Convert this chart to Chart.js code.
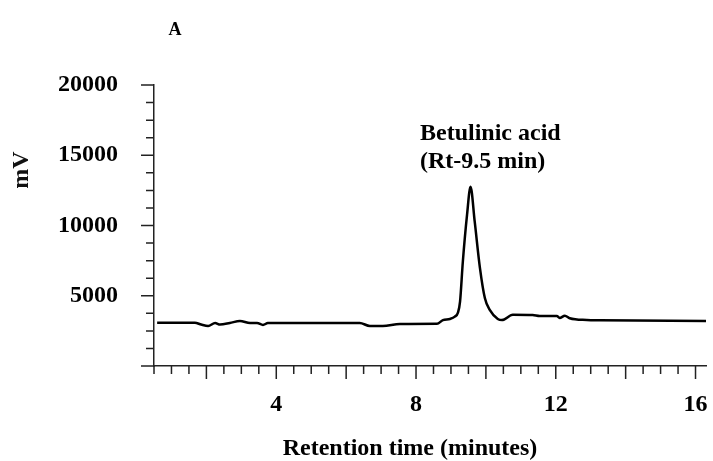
<!DOCTYPE html>
<html lang="en">
  <head>
    <meta charset="UTF-8" />
    <title>Betulinic acid chromatogram</title>
    <script src="https://cdn.jsdelivr.net/npm/chart.js"></script>
    <style>
      body { margin: 0; background: #fff; }
      #wrap { width: 713px; height: 461px; }
    </style>
  </head>
  <body>
    <div id="wrap"><canvas id="hplcChart"></canvas></div>

    <script>
      // retention time (min) and detector signal (mV)
      const rtMinutes = [0.59, 1.67, 1.85, 2.05, 2.25, 2.39, 2.67, 2.96, 3.25, 3.45, 3.62, 3.76, 6.39, 6.68, 7.05, 7.54, 8.6, 8.77, 8.97, 9.11, 9.2, 9.26, 9.34, 9.46, 9.56, 9.68, 9.83, 9.97, 10.11, 10.34, 10.46, 10.77, 11.34, 11.54, 12.03, 12.11, 12.26, 12.4, 12.89, 13.26, 16.3];
      const signalMv = [3080, 3080, 2950, 2850, 3060, 2950, 3060, 3200, 3060, 3060, 2920, 3060, 3060, 2850, 2850, 2990, 3000, 3270, 3350, 3510, 3800, 4580, 7420, 10750, 12760, 10270, 6970, 4840, 3990, 3350, 3270, 3650, 3630, 3560, 3560, 3420, 3580, 3400, 3270, 3250, 3200];

      const xMin = 0.5;
      const xMax = 16.3;
      const yMin = 0;
      const yMax = 20000;
      const xLabelEvery = 4;
      const yLabelEvery = 5000;

      const peakName = "Betulinic acid";
      const peakNote = "(Rt-9.5 min)";
      const panelLetter = "A";
      const xTitle = "Retention time (minutes)";
      const yTitle = "mV";

      const serif = "'Liberation Serif', 'Times New Roman', serif";
      const tickFont = { family: serif, size: 24, weight: "bold" };

      // tick marks of two lengths plus the free-floating texts
      const decor = {
        id: "decor",
        afterDraw(chart) {
          const { ctx, scales } = chart;
          const x = scales.x;
          const y = scales.y;
          ctx.save();
          ctx.strokeStyle = "#222";
          ctx.lineWidth = 1.5;
          ctx.beginPath();
          x.ticks.forEach((t) => {
            const px = x.getPixelForValue(t.value);
            const len = Math.abs(t.value / 2 - Math.round(t.value / 2)) < 1e-6 ? 13 : 8;
            ctx.moveTo(px, x.top);
            ctx.lineTo(px, x.top + len);
          });
          y.ticks.forEach((t) => {
            const py = y.getPixelForValue(t.value);
            const len = t.value % yLabelEvery === 0 ? 13 : 8;
            ctx.moveTo(y.right, py);
            ctx.lineTo(y.right - len, py);
          });
          ctx.stroke();

          ctx.fillStyle = "#000";
          ctx.textBaseline = "alphabetic";
          ctx.textAlign = "left";
          ctx.font = "bold 24px " + serif;
          ctx.fillText(peakName, 420, 140);
          ctx.fillText(peakNote, 420, 168);

          ctx.textAlign = "center";
          ctx.fillText(xTitle, 410, 455);

          ctx.font = "bold 18px " + serif;
          ctx.fillText(panelLetter, 175, 35);

          ctx.font = "bold 24px " + serif;
          ctx.fillStyle = "#111";
          ctx.translate(22, 170);
          ctx.rotate(-Math.PI / 2);
          ctx.textBaseline = "middle";
          ctx.fillText(yTitle, 0, 0);
          ctx.restore();
        },
      };

      const ctx = document.getElementById("hplcChart").getContext("2d");
      new Chart(ctx, {
        type: "scatter",
        data: {
          datasets: [
            {
              label: "Signal",
              data: rtMinutes.map((t, i) => ({ x: t, y: signalMv[i] })),
              showLine: true,
              borderColor: "#000",
              borderWidth: 2.5,
              pointRadius: 0,
              cubicInterpolationMode: "monotone",
            },
          ],
        },
        options: {
          responsive: true,
          maintainAspectRatio: false,
          animation: false,
          layout: { padding: { top: 85, right: 7, left: 0, bottom: 0 } },
          plugins: {
            legend: { display: false },
            tooltip: { enabled: false },
          },
          scales: {
            x: {
              type: "linear",
              min: xMin,
              max: xMax,
              afterFit: (s) => {
                s.height = 95;
                s.paddingLeft = 0;
                s.paddingRight = 0;
              },
              grid: { drawOnChartArea: false, drawTicks: false },
              border: { color: "#222", width: 1.5 },
              ticks: {
                stepSize: 0.5,
                maxTicksLimit: 100,
                includeBounds: false,
                autoSkip: false,
                maxRotation: 0,
                minRotation: 0,
                padding: 24,
                color: "#000",
                font: tickFont,
                callback: (v) => (v % xLabelEvery === 0 ? String(v) : ""),
              },
            },
            y: {
              min: yMin,
              max: yMax,
              afterFit: (s) => {
                s.width = 154;
                s.paddingTop = 0;
                s.paddingBottom = 0;
              },
              grid: { drawOnChartArea: false, drawTicks: false },
              border: { color: "#222", width: 1.5 },
              ticks: {
                stepSize: 1250,
                maxTicksLimit: 100,
                autoSkip: false,
                padding: 36,
                color: "#000",
                font: tickFont,
                callback: (v) => (v !== 0 && v % yLabelEvery === 0 ? String(v) : ""),
              },
            },
          },
        },
        plugins: [decor],
      });
    </script>
  </body>
</html>
